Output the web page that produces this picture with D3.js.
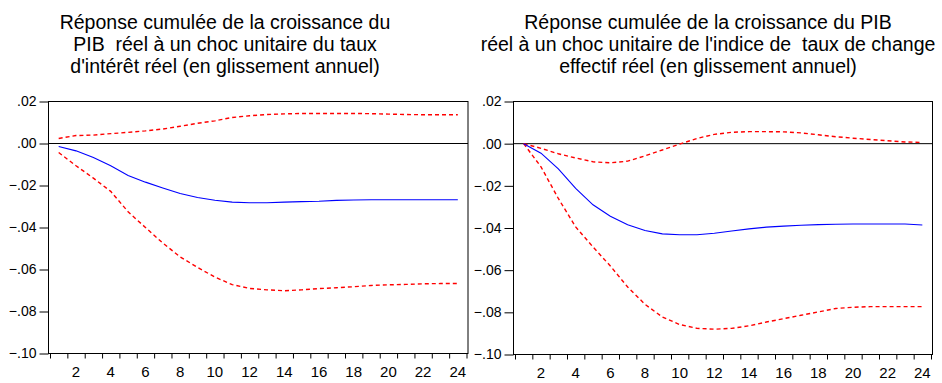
<!DOCTYPE html>
<html lang="fr">
<head>
  <meta charset="UTF-8" />
  <title>Réponses cumulées du PIB réel</title>
  <script src="https://cdn.jsdelivr.net/npm/d3@7"></script>
  <style>
    body { margin: 0; background: #fff; }
    svg { display: block; }
    text { font-family: "Liberation Sans", Arial, sans-serif; fill: #000; }
    .title { font-size: 19.5px; }
    .yaxis text { font-size: 14px; }
    .xlabels text { font-size: 15px; }
  </style>
</head>
<body>
<script>
  // periods 1..24
  var periods = d3.range(1, 25);
  var yTicks = [0.02, 0, -0.02, -0.04, -0.06, -0.08, -0.10];
  var xTickLabels = [2, 4, 6, 8, 10, 12, 14, 16, 18, 20, 22, 24];

  // left panel : choc du taux d'intérêt réel
  var titleLeft = ["Réponse cumulée de la croissance du",
    "PIB  réel à un choc unitaire du taux",
    "d'intérêt réel (en glissement annuel)"];
  var respLeft = [-0.0014, -0.0035, -0.0067, -0.0106, -0.0152, -0.0184, -0.0212, -0.0238, -0.0257, -0.0270,
    -0.0279, -0.0282, -0.0282, -0.0279, -0.0277, -0.0275, -0.0271, -0.0269, -0.0268, -0.0268,
    -0.0268, -0.0268, -0.0268, -0.0268];
  var upperLeft = [0.0024, 0.0038, 0.0040, 0.0047, 0.0053, 0.0060, 0.0069, 0.0082, 0.0096, 0.0108,
    0.0124, 0.0132, 0.0138, 0.0141, 0.0143, 0.0143, 0.0143, 0.0143, 0.0142, 0.0140,
    0.0138, 0.0137, 0.0137, 0.0137];
  var lowerLeft = [-0.0043, -0.0106, -0.0165, -0.0228, -0.0325, -0.0400, -0.0474, -0.0540, -0.0590, -0.0636,
    -0.0672, -0.0690, -0.0697, -0.0701, -0.0697, -0.0691, -0.0687, -0.0682, -0.0676, -0.0673,
    -0.0671, -0.0668, -0.0667, -0.0667];

  // right panel : choc du taux de change effectif réel
  var titleRight = ["Réponse cumulée de la croissance du PIB",
    "réel à un choc unitaire de l'indice de  taux de change",
    "effectif réel (en glissement annuel)"];
  var respRight = [0.0000, -0.0045, -0.0120, -0.0212, -0.0290, -0.0344, -0.0385, -0.0412, -0.0428, -0.0432,
    -0.0432, -0.0425, -0.0414, -0.0404, -0.0396, -0.0391, -0.0387, -0.0384, -0.0382, -0.0381,
    -0.0381, -0.0381, -0.0381, -0.0386];
  var upperRight = [0.0000, -0.0022, -0.0048, -0.0068, -0.0086, -0.0091, -0.0083, -0.0058, -0.0030, -0.0002,
    0.0025, 0.0044, 0.0054, 0.0057, 0.0057, 0.0056, 0.0051, 0.0042, 0.0033, 0.0026,
    0.0020, 0.0014, 0.0008, 0.0006];
  var lowerRight = [0.0000, -0.0110, -0.0260, -0.0395, -0.0490, -0.0580, -0.0680, -0.0762, -0.0822, -0.0858,
    -0.0876, -0.0880, -0.0876, -0.0864, -0.0846, -0.0830, -0.0814, -0.0798, -0.0782, -0.0776,
    -0.0773, -0.0773, -0.0773, -0.0773];

  var svg = d3.select("body").append("svg")
    .attr("width", 942)
    .attr("height", 383);

  svg.append("rect").attr("width", 942).attr("height", 383).attr("fill", "#fff");

  function panel(opt) {
    var x = d3.scaleLinear().domain([0.5, 24.5]).range([opt.x0, opt.x1]);
    var y = d3.scaleLinear().domain([-0.10, 0.02]).range([opt.y1, opt.y0]);

    var g = svg.append("g");

    // title, 3 lines
    g.append("text")
      .attr("class", "title")
      .attr("text-anchor", "middle")
      .attr("xml:space", "preserve")
      .style("white-space", "pre")
      .selectAll("tspan")
      .data(opt.title)
      .enter()
      .append("tspan")
      .attr("x", opt.titleX)
      .attr("y", function(d, i) { return 29 + i * 22; })
      .text(function(d) { return d; });

    // frame
    g.append("rect")
      .attr("x", opt.x0 - 1.5)
      .attr("y", opt.y0)
      .attr("width", opt.x1 - opt.x0 + 3)
      .attr("height", opt.y1 - opt.y0)
      .attr("fill", "none")
      .attr("stroke", "#000")
      .attr("stroke-width", 1);

    // zero line
    g.append("line")
      .attr("x1", opt.x0 - 1.5).attr("x2", opt.x1 + 1.5)
      .attr("y1", y(0)).attr("y2", y(0))
      .attr("stroke", "#000")
      .attr("stroke-width", 1);

    var yAxis = d3.axisLeft(y)
      .tickValues(yTicks)
      .tickSize(9)
      .tickPadding(3)
      .tickFormat(function(d) { return d3.format(".2f")(d).replace("0.", "."); });

    g.append("g")
      .attr("class", "yaxis")
      .attr("transform", "translate(" + (opt.x0 - 1.5) + ",0)")
      .call(yAxis)
      .call(function(a) { a.select(".domain").remove(); });

    // x axis : ticks between periods, labels on even periods
    var xAxis = d3.axisBottom(x)
      .tickValues(d3.range(0.5, 25, 1))
      .tickSize(5)
      .tickFormat("");

    g.append("g")
      .attr("transform", "translate(0," + opt.y1 + ")")
      .call(xAxis)
      .call(function(a) { a.select(".domain").remove(); });

    g.append("g")
      .attr("class", "xlabels")
      .selectAll("text")
      .data(xTickLabels)
      .enter()
      .append("text")
      .attr("x", function(d) { return x(d); })
      .attr("y", opt.y1 + 23)
      .attr("text-anchor", "middle")
      .text(function(d) { return d; });

    var line = d3.line()
      .x(function(d, i) { return x(periods[i]); })
      .y(function(d) { return y(d); });

    [opt.upper, opt.lower].forEach(function(s) {
      g.append("path")
        .attr("d", line(s))
        .attr("fill", "none")
        .attr("stroke", "#ff0000")
        .attr("stroke-width", 1.4)
        .attr("stroke-dasharray", "4,3");
    });

    g.append("path")
      .attr("d", line(opt.resp))
      .attr("fill", "none")
      .attr("stroke", "#0000ff")
      .attr("stroke-width", 1.1);
  }

  panel({ x0: 50, x1: 466.5, y0: 101.5, y1: 353.5, titleX: 225,
    title: titleLeft, resp: respLeft, upper: upperLeft, lower: lowerLeft });
  panel({ x0: 515, x1: 931, y0: 101.5, y1: 354.5, titleX: 708,
    title: titleRight, resp: respRight, upper: upperRight, lower: lowerRight });
</script>
</body>
</html>
